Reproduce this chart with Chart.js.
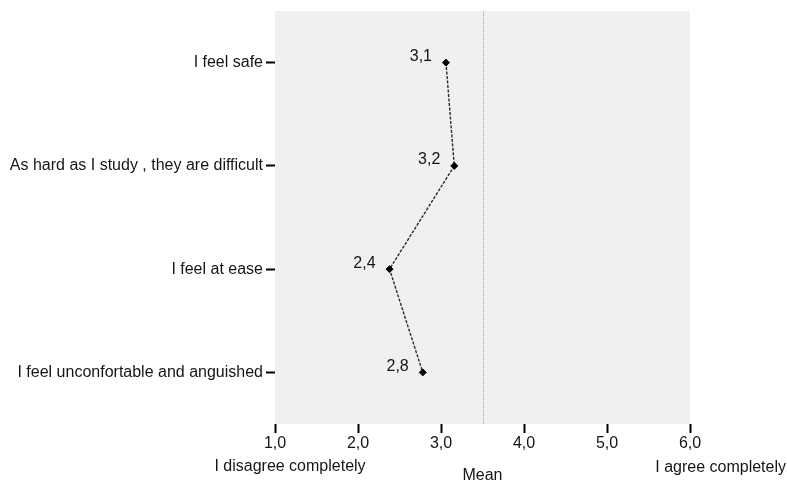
<!DOCTYPE html>
<html>
<head>
<meta charset="utf-8">
<script src="https://cdn.jsdelivr.net/npm/chart.js@4.4.0/dist/chart.umd.min.js"></script>
<style>
  html, body { margin: 0; padding: 0; background: #fff; }
</style>
</head>
<body>
<canvas id="myChart" width="787" height="481"></canvas>
<script>
// data
var items = ["I feel safe", "As hard as I study , they are difficult", "I feel at ease", "I feel unconfortable and anguished"];
var means = [3.06, 3.16, 2.38, 2.78];
var xTicks = [1, 2, 3, 4, 5, 6];
var midPoint = 3.5;
var leftLabel = "I disagree completely";
var rightLabel = "I agree completely";
var axisTitle = "Mean";

var FONT = "'Liberation Sans', Arial, sans-serif";
var TEXT = "#151515";

function fmt(v) {
    return v.toFixed(1).replace(".", ",");
}

var decor = {
    id: "decor",
    beforeDatasetsDraw: function (chart) {
        var ctx = chart.ctx;
        var a = chart.chartArea;
        ctx.save();
        // grey plot background
        ctx.fillStyle = "#f0f0f0";
        ctx.fillRect(a.left, a.top, a.right - a.left, a.bottom - a.top);
        // dotted reference line at the scale midpoint
        var x = Math.round(chart.scales.x.getPixelForValue(midPoint)) + 0.5;
        ctx.strokeStyle = "#a8a8a8";
        ctx.lineWidth = 1;
        ctx.setLineDash([1, 1]);
        ctx.beginPath();
        ctx.moveTo(x, a.top);
        ctx.lineTo(x, a.bottom);
        ctx.stroke();
        ctx.restore();
    },
    afterDatasetsDraw: function (chart) {
        var ctx = chart.ctx;
        var pts = chart.getDatasetMeta(0).data;
        ctx.save();
        ctx.font = "16px " + FONT;
        ctx.fillStyle = TEXT;
        ctx.textAlign = "right";
        ctx.textBaseline = "middle";
        pts.forEach(function (p, i) {
            ctx.fillText(fmt(means[i]), p.x - 14, p.y - 6);
        });
        ctx.restore();
    },
    afterDraw: function (chart) {
        var ctx = chart.ctx;
        var a = chart.chartArea;
        ctx.save();
        ctx.font = "16px " + FONT;
        ctx.fillStyle = TEXT;
        ctx.textBaseline = "middle";
        ctx.textAlign = "center";
        ctx.fillText(leftLabel, a.left + 15, 467);
        ctx.fillText(axisTitle, chart.scales.x.getPixelForValue(midPoint), 476);
        ctx.textAlign = "right";
        ctx.fillText(rightLabel, 786, 468);
        ctx.restore();
    }
};

var ctx = document.getElementById("myChart").getContext("2d");
var chart = new Chart(ctx, {
    type: "line",
    data: {
        labels: items,
        datasets: [{
            data: means,
            borderColor: "#2a2a2a",
            borderWidth: 1.4,
            borderDash: [3, 1.5],
            pointStyle: "rectRot",
            pointRadius: 3.5,
            pointBackgroundColor: "#000",
            pointBorderColor: "#000",
            pointBorderWidth: 1,
            tension: 0
        }]
    },
    options: {
        indexAxis: "y",
        responsive: false,
        animation: false,
        layout: { padding: { top: 9, right: 97, left: 0, bottom: 0 } },
        plugins: {
            legend: { display: false },
            tooltip: { enabled: false }
        },
        scales: {
            x: {
                type: "linear",
                min: 1,
                max: 6,
                afterBuildTicks: function (scale) {
                    scale.ticks = xTicks.map(function (v) { return { value: v }; });
                },
                afterFit: function (scale) { scale.height = 57; },
                border: { display: false },
                grid: {
                    drawOnChartArea: false,
                    tickLength: 9,
                    tickColor: "#000",
                    tickWidth: 2
                },
                ticks: {
                    padding: 1,
                    color: TEXT,
                    font: { family: FONT, size: 16 },
                    callback: function (v) { return fmt(v); }
                }
            },
            y: {
                type: "category",
                offset: true,
                afterFit: function (scale) { scale.width = 275; },
                border: { display: false },
                grid: {
                    offset: false,
                    drawOnChartArea: false,
                    tickLength: 9,
                    tickColor: "#000",
                    tickWidth: 2
                },
                ticks: {
                    padding: 3,
                    color: TEXT,
                    font: { family: FONT, size: 16, lineHeight: 1 }
                }
            }
        }
    },
    plugins: [decor]
});
</script>
</body>
</html>
